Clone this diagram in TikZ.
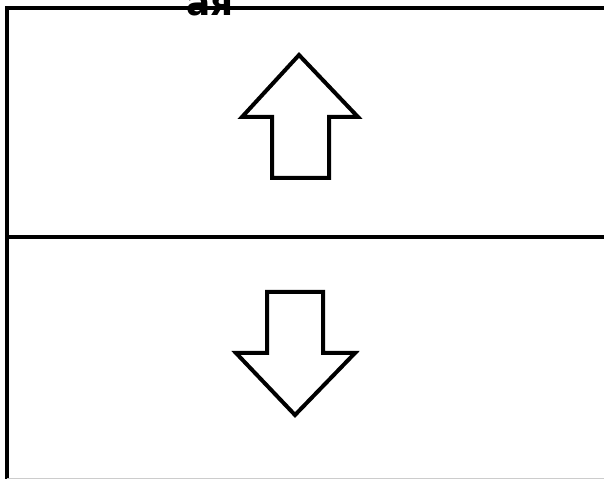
\documentclass[tikz,border=0pt]{standalone}
\usepackage{fontspec}
\newfontfamily\cyrfont{DejaVu Sans}
\usetikzlibrary{positioning}

\begin{document}
\begin{tikzpicture}[
  x=1bp,y=1bp,
  frame/.style={line width=4.5bp,black},
  arr/.style={draw,line width=4bp,line join=miter,fill=white},
  ttl/.style={font=\cyrfont\bfseries\fontsize{36}{36}\selectfont,inner sep=0pt}]

 % ---- page ----
 \useasboundingbox (0,0) rectangle (604,479);
 \clip (0,0) rectangle (604,479);
 \fill[white] (0,0) rectangle (604,479);

 % ---- frame ----
 \draw[frame] (7,0) -- (7,471) -- (604,471);
 \draw[frame] (7,242) -- (604,242);
 \draw[gray!40,line width=1bp] (7,0.5) -- (604,0.5);

 % ---- cut-off title ----
 \node[ttl,anchor=base] (title) at (210,463.5) {ая};

 % ---- up arrow ----
 \draw[arr] (299,424) -- (358,362) -- (329,362) -- (329,301)
   -- (272,301) -- (272,362) -- (242,362) -- cycle;

 % ---- down arrow ----
 \draw[arr] (295,64) -- (355,126) -- (323,126) -- (323,187)
   -- (267,187) -- (267,126) -- (236,126) -- cycle;
\end{tikzpicture}
\end{document}
